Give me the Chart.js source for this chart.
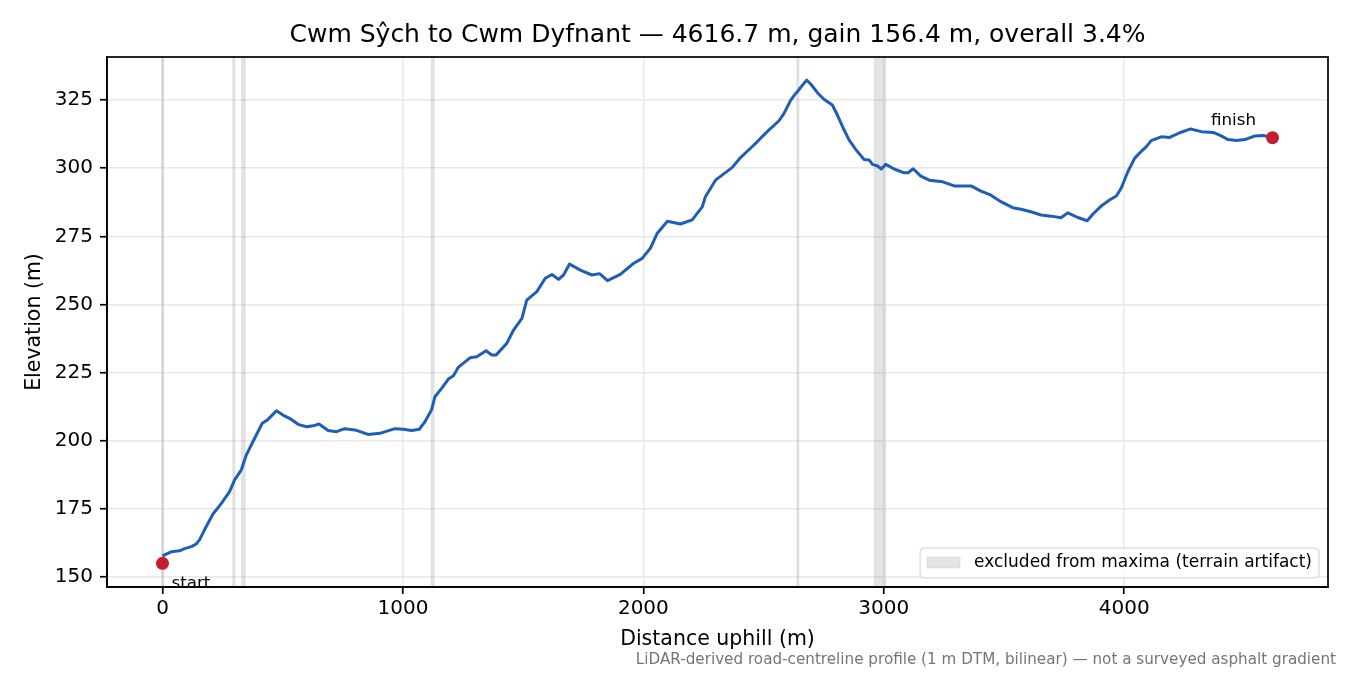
<!DOCTYPE html>
<html>
<head>
<meta charset="utf-8">
<title>Cwm Sŷch to Cwm Dyfnant</title>
<script src="https://cdn.jsdelivr.net/npm/chart.js"></script>
<style>
    html, body { margin: 0; padding: 0; background: #fff; }
    #wrap { width: 1350px; height: 675px; }
</style>
</head>
<body>
<div id="wrap"><canvas id="profileChart" width="1350" height="675"></canvas></div>
<script>
    // road profile
    const distance = [0, 36, 71, 92, 120, 140, 154, 182, 210, 245, 279, 300, 328, 349, 376, 415, 439, 474, 501, 536,
        564, 599, 633, 651, 689, 724, 758, 807, 855, 904, 967, 1001, 1036, 1068, 1092, 1119, 1133, 1161, 1189, 1210,
        1230, 1279, 1307, 1346, 1370, 1387, 1432, 1460, 1495, 1515, 1557, 1592, 1620, 1647, 1668, 1693, 1738, 1786, 1818, 1851,
        1904, 1960, 1995, 2029, 2057, 2100, 2130, 2154, 2203, 2245, 2258, 2300, 2370, 2404, 2460, 2515, 2564, 2585, 2613, 2633,
        2640, 2654, 2679, 2696, 2724, 2751, 2786, 2807, 2835, 2856, 2883, 2918, 2939, 2953, 2974, 2990, 3008, 3043, 3085, 3101,
        3122, 3154, 3189, 3245, 3293, 3363, 3404, 3446, 3487, 3536, 3571, 3612, 3654, 3696, 3737, 3765, 3807, 3846, 3870, 3904,
        3939, 3967, 3987, 4015, 4043, 4071, 4092, 4112, 4154, 4189, 4231, 4276, 4321, 4370, 4397, 4432, 4467, 4501, 4543, 4578,
        4616.7];
    const elevation = [157.7, 159.2, 159.6, 160.4, 161.1, 162.1, 163.6, 168.5, 173.1, 177, 181.3, 185.6, 189.3, 194.8, 199.6, 206.4, 207.8, 211, 209.4, 207.8,
        206, 205.1, 205.6, 206.1, 203.7, 203.3, 204.4, 203.8, 202.3, 202.7, 204.4, 204.2, 203.7, 204.2, 207, 211.3, 216.1, 219.2, 222.6, 223.8,
        226.9, 230.4, 230.8, 233, 231.4, 231.4, 235.7, 240.6, 244.9, 251.6, 254.7, 259.6, 261, 259.2, 260.8, 264.8, 262.6, 260.8, 261.3, 258.7,
        261, 265.1, 266.9, 270.6, 276, 280.5, 280, 279.5, 281, 285.8, 289.5, 295.6, 300.3, 303.9, 308.5, 313.4, 317.4, 320.1, 325, 327.4,
        328, 329.6, 332.3, 330.9, 327.7, 325.3, 323.2, 319.5, 314, 310.3, 306.9, 303.2, 303, 301.4, 300.8, 299.7, 301.4, 299.7, 298.3, 298.3,
        299.8, 297.1, 295.6, 295, 293.5, 293.5, 291.6, 290.1, 287.7, 285.5, 284.9, 284, 282.8, 282.4, 281.8, 283.6, 281.9, 280.7, 283.2, 286.1,
        288.3, 289.8, 292.6, 298.7, 303.6, 306.2, 307.9, 310.1, 311.5, 311.3, 313, 314.4, 313.4, 313.1, 312.1, 310.5, 310.2, 310.5, 311.8, 312,
        311.2];

    const endLabels = ['start', 'finish'];
    const endDistance = [0, 4616.7];
    const endElevation = [155.0, 311.2];

    // spans excluded from maxima
    const excludedFrom = [-4, 292, 329, 1118, 2638, 2960];
    const excludedTo = [4, 301, 344, 1130, 2647, 3008];

    const xTicks = [0, 1000, 2000, 3000, 4000];
    const yTicks = [150, 175, 200, 225, 250, 275, 300, 325];

    const FONT = '"DejaVu Sans", "Noto Sans", sans-serif';
    const titleText = 'Cwm Sŷch to Cwm Dyfnant — 4616.7 m, gain 156.4 m, overall 3.4%';
    const legendText = 'excluded from maxima (terrain artifact)';
    const noteText = 'LiDAR-derived road-centreline profile (1 m DTM, bilinear) — not a surveyed asphalt gradient';

    const bandsPlugin = {
        id: 'bands',
        beforeDatasetsDraw(chart) {
            const ctx = chart.ctx, area = chart.chartArea, xs = chart.scales.x;
            ctx.save();
            for (let i = 0; i < excludedFrom.length; i++) {
                const a = xs.getPixelForValue(excludedFrom[i]);
                const b = xs.getPixelForValue(excludedTo[i]);
                ctx.fillStyle = 'rgba(128,128,128,0.21)';
                ctx.fillRect(a, area.top, b - a, area.bottom - area.top);
                ctx.strokeStyle = 'rgba(128,128,128,0.14)';
                ctx.lineWidth = 1;
                ctx.strokeRect(a, area.top, b - a, area.bottom - area.top);
            }
            ctx.restore();
        }
    };

    const decorPlugin = {
        id: 'decor',
        afterDraw(chart) {
            const ctx = chart.ctx, area = chart.chartArea;
            const xs = chart.scales.x, ys = chart.scales.y;
            ctx.save();

            // full frame
            ctx.strokeStyle = '#000';
            ctx.lineWidth = 1.7;
            ctx.strokeRect(area.left, area.top, area.right - area.left, area.bottom - area.top);

            // title
            ctx.fillStyle = '#000';
            ctx.font = '25px ' + FONT;
            ctx.textAlign = 'center';
            ctx.textBaseline = 'middle';
            ctx.fillText(titleText, (area.left + area.right) / 2, 35);

            // start / finish labels
            ctx.font = '16.7px ' + FONT;
            ctx.textBaseline = 'alphabetic';
            ctx.textAlign = 'left';
            ctx.fillText(endLabels[0], xs.getPixelForValue(endDistance[0]) + 9, ys.getPixelForValue(endElevation[0]) + 25);
            ctx.textAlign = 'center';
            ctx.fillText(endLabels[1], xs.getPixelForValue(endDistance[1]) - 39, ys.getPixelForValue(endElevation[1]) - 13);

            // legend box, lower right inside the axes
            ctx.font = '17px ' + FONT;
            const tw = ctx.measureText(legendText).width;
            const w = 7 + 33 + 14 + tw + 7, h = 30;
            const lx = area.right - 9 - w, ly = area.bottom - 9 - h;
            ctx.beginPath();
            ctx.roundRect(lx, ly, w, h, 4);
            ctx.fillStyle = 'rgba(255,255,255,0.8)';
            ctx.fill();
            ctx.strokeStyle = '#d0d0d0';
            ctx.lineWidth = 1;
            ctx.stroke();
            ctx.fillStyle = 'rgba(128,128,128,0.21)';
            ctx.fillRect(lx + 7, ly + 9, 33, 11);
            ctx.strokeStyle = 'rgba(128,128,128,0.14)';
            ctx.strokeRect(lx + 7, ly + 9, 33, 11);
            ctx.fillStyle = '#000';
            ctx.textAlign = 'left';
            ctx.textBaseline = 'middle';
            ctx.fillText(legendText, lx + 54, ly + 15);

            // footnote
            ctx.font = '15.2px ' + FONT;
            ctx.fillStyle = '#757575';
            ctx.textAlign = 'right';
            ctx.fillText(noteText, 1336, 660);
            ctx.restore();
        }
    };

    const profile = distance.map((d, i) => ({ x: d, y: elevation[i] }));
    const ends = endDistance.map((d, i) => ({ x: d, y: endElevation[i] }));

    const ctx = document.getElementById('profileChart').getContext('2d');
    const chart = new Chart(ctx, {
        type: 'line',
        data: {
            datasets: [{
                label: 'ends',
                data: ends,
                showLine: false,
                pointRadius: 6.5,
                pointBackgroundColor: '#c41e2d',
                pointBorderWidth: 0,
                order: 0
            }, {
                label: 'elevation',
                data: profile,
                borderColor: '#1f5eb5',
                borderWidth: 3,
                borderJoinStyle: 'round',
                pointRadius: 0,
                tension: 0,
                fill: false,
                order: 1
            }]
        },
        options: {
            responsive: false,
            devicePixelRatio: 1,
            animation: false,
            layout: { padding: { top: 57, right: 22, left: 0, bottom: 0 } },
            plugins: {
                legend: { display: false },
                tooltip: { enabled: false }
            },
            scales: {
                x: {
                    type: 'linear',
                    min: -230.8,
                    max: 4847.5,
                    afterBuildTicks: s => { s.ticks = xTicks.map(v => ({ value: v })); },
                    afterFit: s => { s.height = 88; },
                    grid: { color: '#e8e8e8', lineWidth: 1.5, tickColor: '#000', tickLength: 7, tickWidth: 1.7 },
                    border: { display: true, color: '#000', width: 1.7 },
                    ticks: { color: '#000', font: { family: FONT, size: 20 }, padding: 3, maxRotation: 0, callback: v => String(v) },
                    title: { display: true, text: 'Distance uphill (m)', color: '#000', font: { family: FONT, size: 20.5 }, padding: { top: 0, bottom: 23.5 } }
                },
                y: {
                    type: 'linear',
                    min: 146.3,
                    max: 340.8,
                    afterBuildTicks: s => { s.ticks = yTicks.map(v => ({ value: v })); },
                    afterFit: s => { s.width = 107; },
                    grid: { color: '#e8e8e8', lineWidth: 1.5, tickColor: '#000', tickLength: 7, tickWidth: 1.7 },
                    border: { display: true, color: '#000', width: 1.7 },
                    ticks: { color: '#000', font: { family: FONT, size: 20 }, padding: 7, callback: v => String(v) },
                    title: { display: true, text: 'Elevation (m)', color: '#000', font: { family: FONT, size: 20.5 }, padding: { top: 22.5 } }
                }
            }
        },
        plugins: [bandsPlugin, decorPlugin]
    });
</script>
</body>
</html>
